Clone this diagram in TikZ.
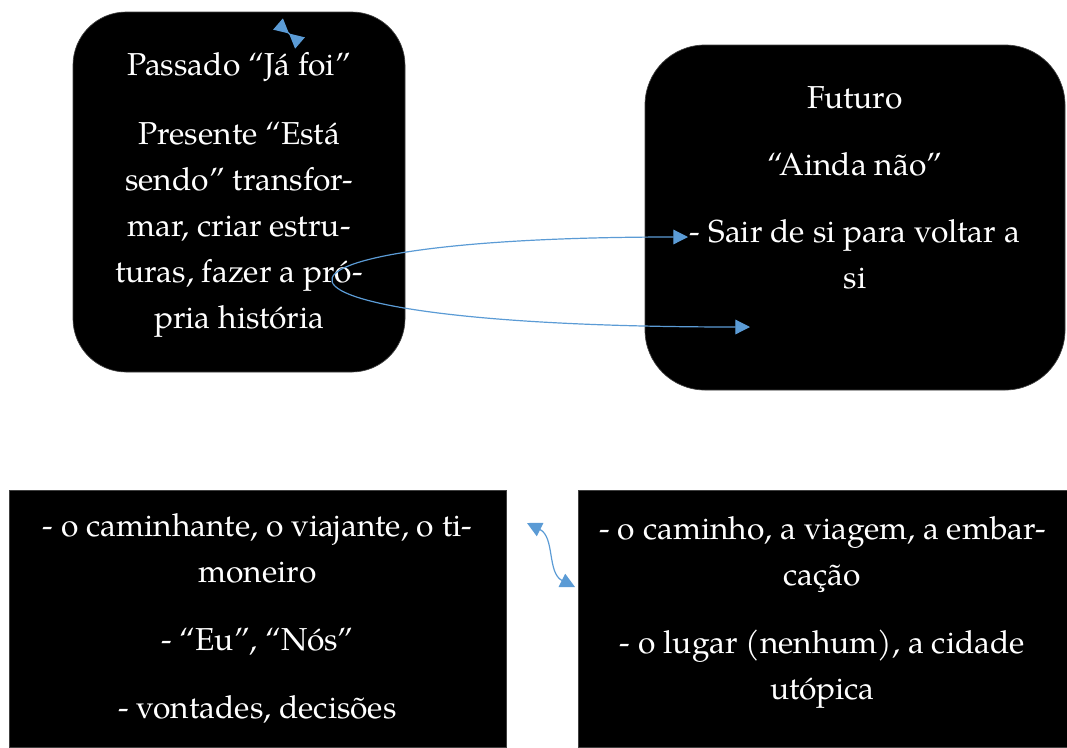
\documentclass[tikz,border=0pt]{standalone}
\usepackage{fontspec}
\setmainfont{TeX Gyre Pagella}
\usetikzlibrary{arrows.meta,positioning}
\definecolor{wordblue}{RGB}{91,155,213}
\tikzset{
boxstyle/.style={
  rectangle,
  fill=black,
  draw=black!75,
  line width=0.5pt,
  inner sep=0pt,
  }
}
\tikzset{
txtstyle/.style={
  text=white,
  align=center,
  inner sep=0pt,
  font=\fontsize{23.8}{34.5}\selectfont,
  }
}
\tikzset{
myline/.style={
  line width=0.9pt,
  draw=wordblue,
  {Triangle[length=11pt,width=11pt]}-{Triangle[length=11pt,width=11pt]}
  }
}
\tikzset{
tieline/.style={
  line width=0.9pt,
  draw=wordblue,
  {Triangle[reversed,length=10.9pt,width=11pt]}-{Triangle[reversed,length=10.9pt,width=11pt]}
  }
}

\begin{document}
\begin{tikzpicture}[x=0.75pt,y=-0.75pt]
    \useasboundingbox (0,0) rectangle (1067,747);

    % past / present box
    \node[boxstyle, rounded corners=40pt, minimum width=249pt, minimum height=270pt] (past) at (239,192) {};
    \node[txtstyle, below=30pt of past.north] (pastT) {Passado “Já foi”\\[17.25pt]
        Presente “Está\\ sendo” transfor-\\ mar, criar estru-\\ turas, fazer a pró-\\ pria história};

    % future box
    \node[boxstyle, rounded corners=45pt, minimum width=315pt, minimum height=258.75pt] (fut) at (855,217.5) {};
    \node[txtstyle, below=31pt of fut.north] (futT) {Futuro\\[15.75pt]
        “Ainda não”\\[15.75pt]
        - Sair de si para voltar a\\ si};

    % walker box
    \node[boxstyle, minimum width=372.75pt, minimum height=192.75pt] (walk) at (257.5,618.5) {};
    \node[txtstyle, below=18pt of walk.north] (walkT) {- o caminhante, o viajante, o ti-\\ moneiro\\[16.5pt]
        - “Eu”, “Nós”\\[16.5pt]
        - vontades, decisões};

    % way box
    \node[boxstyle, minimum width=366.75pt, minimum height=192.75pt] (way) at (822.5,618.5) {};
    \node[txtstyle, below=20pt of way.north] (wayT) {- o caminho, a viagem, a embar-\\ cação\\[16.5pt]
        - o lugar (nenhum), a cidade\\ utópica};

    % arrow ends
    \coordinate (tieA) at (278,24);
    \coordinate (tieB) at (300,43);
    \coordinate (sairTip) at (688,237);
    \coordinate (lowTip) at (750,327);
    \coordinate (wayA) at (527,523);
    \coordinate (wayB) at (575,587);

    % edges
    \draw[tieline] (tieA) -- (tieB);
    \draw[myline] (sairTip) .. controls (208,237) and (208,327) .. (lowTip);
    \draw[myline] (wayA) .. controls (555,537) and (547,573) .. (wayB);
\end{tikzpicture}
\end{document}
